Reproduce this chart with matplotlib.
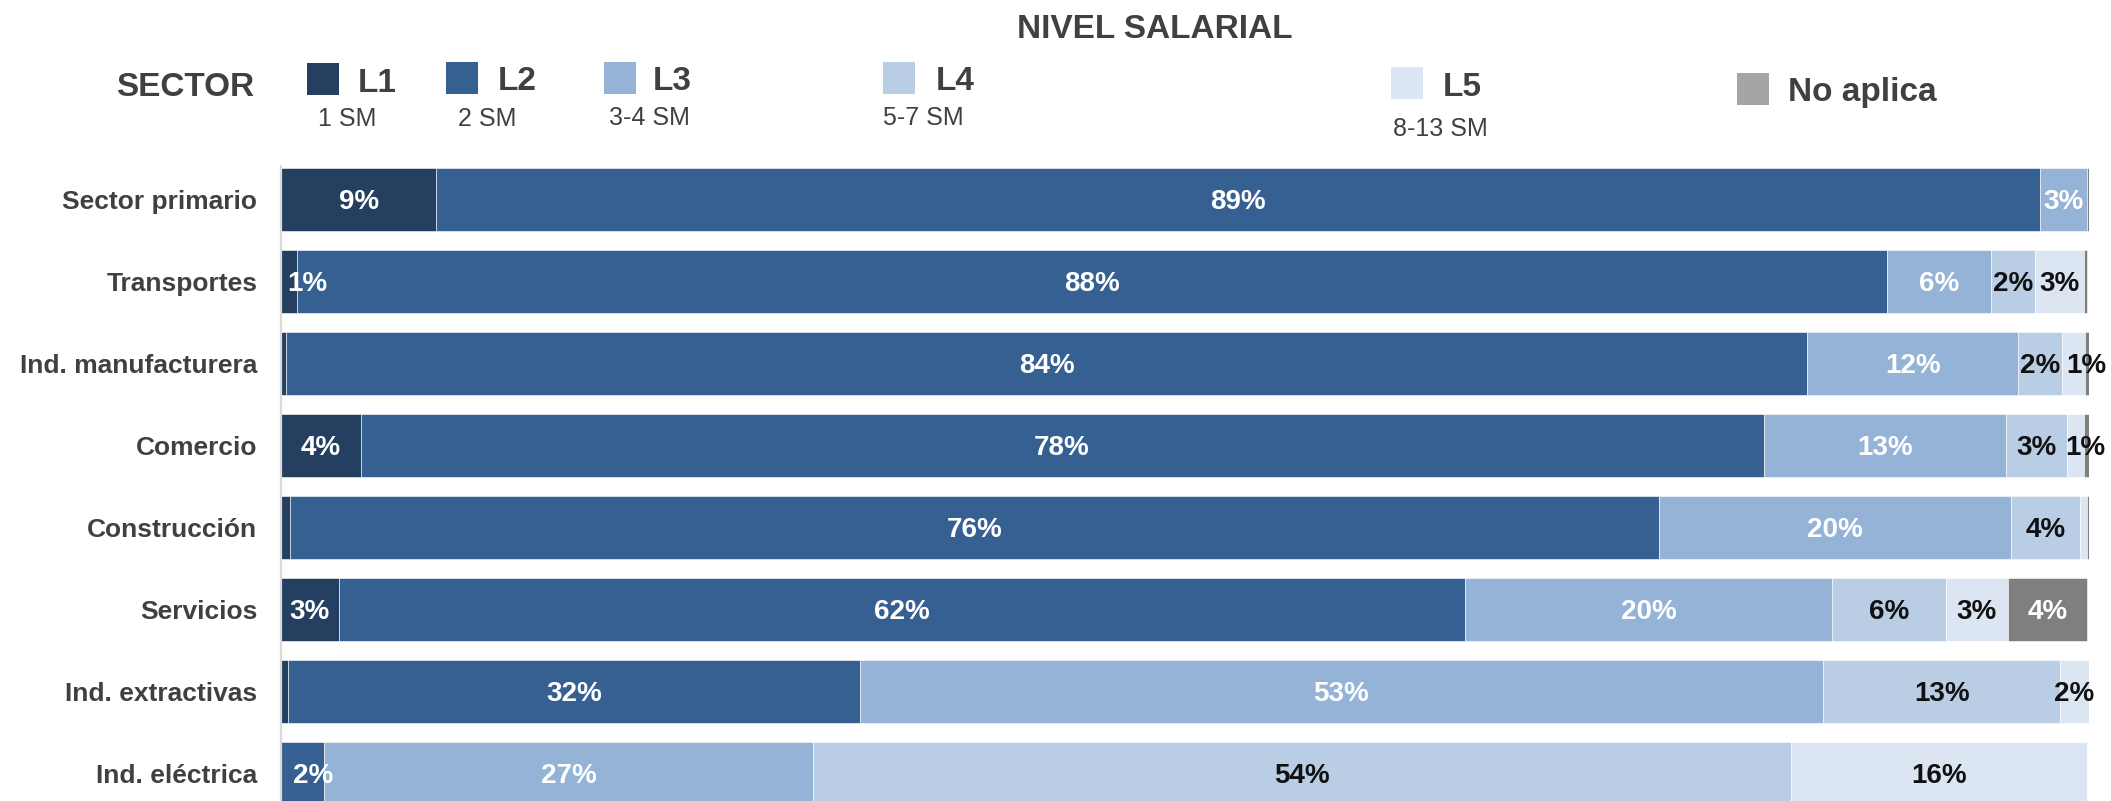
import matplotlib
matplotlib.use("Agg")
import matplotlib.pyplot as plt
from matplotlib.patches import Rectangle
import numpy as np

plt.rcParams['font.family'] = ['Liberation Sans', 'DejaVu Sans']

# ---- data -------------------------------------------------------------
sectors = ["Sector primario", "Transportes", "Ind. manufacturera", "Comercio",
           "Construcción", "Servicios", "Ind. extractivas", "Ind. eléctrica"]
levels = ["L1", "L2", "L3", "L4", "L5", "No aplica"]
level_notes = ["1 SM", "2 SM", "3-4 SM", "5-7 SM", "8-13 SM", ""]

l1 = [8.6, 0.9, 0.3, 4.4, 0.5, 3.2, 0.4, 0.0]
l2 = [88.7, 87.9, 84.1, 77.6, 75.7, 62.3, 31.6, 2.4]
l3 = [2.6, 5.8, 11.7, 13.4, 19.5, 20.3, 53.3, 27.0]
l4 = [0.0, 2.4, 2.4, 3.4, 3.8, 6.3, 13.1, 54.1]
l5 = [0.0, 2.7, 1.3, 0.9, 0.4, 3.4, 1.6, 16.4]
no_aplica = [0.2, 0.2, 0.2, 0.3, 0.1, 4.4, 0.05, 0.0]

# ---- style ------------------------------------------------------------
bar_colors = ["#243F60", "#376092", "#95B3D7", "#B9CDE5", "#DCE6F2", "#7F7F7F"]
legend_colors = ["#243F60", "#376092", "#95B3D7", "#B9CDE5", "#DCE6F2", "#A5A5A5"]
label_colors = ["white", "white", "white", "#111111", "#111111", "white"]
text_gray = "#404040"

W, H = 2111, 801
fig = plt.figure(figsize=(W / 100, H / 100), dpi=100)


def fx(x):
    return x / W


def fy(y):
    return 1 - y / H


ax = fig.add_axes([fx(281), 0, fx(2089) - fx(281), fy(166)])

series = [l1, l2, l3, l4, l5, no_aplica]
ypos = np.arange(len(sectors))
left = np.zeros(len(sectors))
# small horizontal nudges (pixels) for labels on very thin segments
nudges = {(1, 0): 18, (7, 1): 10, (2, 4): 13, (3, 4): 10}

for j, vals in enumerate(series):
    vals = np.array(vals)
    ax.barh(ypos, vals, left=left, height=0.77, color=bar_colors[j],
            edgecolor="white", linewidth=0.4)
    for i, v in enumerate(vals):
        if v >= 0.8:
            ax.annotate(f"{v:.0f}%", (left[i] + v / 2, i),
                        xytext=(nudges.get((i, j), 0), -2),
                        textcoords="offset pixels",
                        ha="center", va="center", fontsize=20,
                        fontweight="bold", color=label_colors[j],
                        annotation_clip=False)
    left += vals

ax.set_xlim(0, 100)
ax.set_ylim(7.335, -0.41)
ax.set_yticks(ypos)
ax.set_yticklabels(sectors, fontsize=19, fontweight="bold", color=text_gray)
ax.tick_params(axis="y", length=0, pad=17)
ax.set_xticks([])
for s in ["top", "right", "bottom"]:
    ax.spines[s].set_visible(False)
ax.spines["left"].set_color("#D9D9D9")
ax.spines["left"].set_linewidth(1.6)

# ---- header / legend --------------------------------------------------
fig.text(fx(1155), fy(30), "NIVEL SALARIAL", ha="center", va="center",
         fontsize=24, fontweight="bold", color=text_gray)
fig.text(fx(116), fy(88), "SECTOR", ha="left", va="center",
         fontsize=24, fontweight="bold", color=text_gray)

# (square left, square top, label left, note center x, note y)
legend_layout = [
    (307, 63, 358, 347, 119),
    (446, 62, 498, 487, 119),
    (604, 62, 653, 649, 118),
    (883, 62, 936, 923, 118),
    (1391, 67, 1443, 1440, 129),
    (1737, 73, 1788, None, None),
]
sq = 32
for k, (sx, sy, tx, nx, ny) in enumerate(legend_layout):
    fig.patches.append(Rectangle((fx(sx), fy(sy + sq)), sq / W, sq / H,
                                 transform=fig.transFigure,
                                 facecolor=legend_colors[k], edgecolor="none"))
    fig.text(fx(tx), fy(sy + sq / 2 + 4), levels[k], ha="left", va="center",
             fontsize=24, fontweight="bold", color=text_gray)
    if level_notes[k]:
        fig.text(fx(nx), fy(ny), level_notes[k], ha="center", va="center",
                 fontsize=18, color=text_gray)

fig.savefig("out.png", dpi=100)
